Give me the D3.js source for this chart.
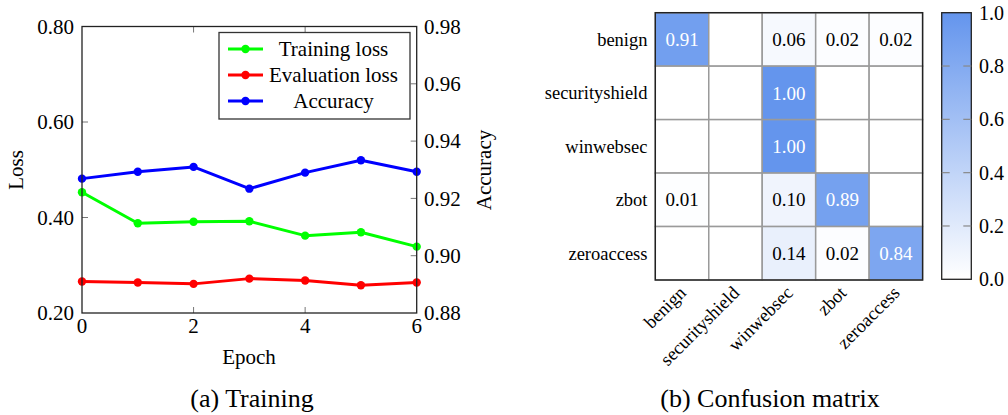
<!DOCTYPE html>
<html><head><meta charset="utf-8">
<script src="https://cdn.jsdelivr.net/npm/d3@7"></script>
</head><body style="margin:0">
<svg id="c" width="1008" height="415"></svg>
<script>
// ---- data ----
const epochs = [0, 1, 2, 3, 4, 5, 6];
const trainingLoss = [0.453, 0.388, 0.391, 0.392, 0.362, 0.369, 0.339];
const evaluationLoss = [0.266, 0.264, 0.261, 0.272, 0.268, 0.258, 0.264];
const accuracy = [0.9269, 0.9293, 0.9310, 0.9234, 0.9290, 0.9333, 0.9293];
const lossTicks = [0.2, 0.4, 0.6, 0.8];
const accTicks = [0.88, 0.90, 0.92, 0.94, 0.96, 0.98];
const epochTicks = [0, 2, 4, 6];
const seriesNames = ["Training loss", "Evaluation loss", "Accuracy"];
const seriesColors = ["#00ff00", "#ff0000", "#0000ff"];

const classes = ["benign", "securityshield", "winwebsec", "zbot", "zeroaccess"];
const matrixValues = [
  [0.91, null, 0.06, 0.02, 0.02],
  [null, null, 1.00, null, null],
  [null, null, 1.00, null, null],
  [0.01, null, 0.10, 0.89, null],
  [null, null, 0.14, 0.02, 0.84]
];
const colorbarTicks = [0.0, 0.2, 0.4, 0.6, 0.8, 1.0];

const FONT = "Liberation Serif";
const svg = d3.select("#c");
function T(sel, size) {
  return sel.append("text").attr("font-family", FONT)
    .style("font-family", "'Liberation Serif', serif", "important")
    .style("font-size", size + "px", "important");
}

// ---- left chart ----
const L = {x0: 82, x1: 416.7, y0: 26.5, y1: 313};
const x = d3.scaleLinear().domain([0, 6]).range([L.x0, L.x1]);
const yL = d3.scaleLinear().domain([0.2, 0.8]).range([L.y1, L.y0]);
const yR = d3.scaleLinear().domain([0.88, 0.98]).range([L.y1, L.y0]);
const g = svg.append("g");
const fs = 21;

const tickCol = "#777";
function tick(x1, y1, x2, y2) {
  g.append("line").attr("x1", x1).attr("y1", y1).attr("x2", x2).attr("y2", y2).attr("stroke", tickCol).attr("stroke-width", 1);
}
epochTicks.slice(1, -1).forEach(d => { tick(x(d), L.y1, x(d), L.y1 - 6); tick(x(d), L.y0, x(d), L.y0 + 6); });
lossTicks.slice(1, -1).forEach(d => tick(L.x0, yL(d), L.x0 + 6, yL(d)));
accTicks.slice(1, -1).forEach(d => tick(L.x1, yR(d), L.x1 - 6, yR(d)));

const series = [
  {vals: trainingLoss, y: yL},
  {vals: evaluationLoss, y: yL},
  {vals: accuracy, y: yR}
];
series.forEach((s, i) => {
  const line = d3.line().x((d, j) => x(epochs[j])).y(d => s.y(d));
  g.append("path").datum(s.vals).attr("d", line).attr("fill", "none")
    .attr("stroke", seriesColors[i]).attr("stroke-width", 3).attr("stroke-linejoin", "round");
  s.vals.forEach((d, j) => g.append("circle").attr("cx", x(epochs[j])).attr("cy", s.y(d)).attr("r", 4.2).attr("fill", seriesColors[i]));
});

g.append("rect").attr("x", L.x0).attr("y", L.y0).attr("width", L.x1 - L.x0).attr("height", L.y1 - L.y0)
  .attr("fill", "none").attr("stroke", "#222").attr("stroke-width", 1.3);

epochTicks.forEach(d => T(g, fs).attr("x", x(d)).attr("y", 333).attr("text-anchor", "middle").text(d));
lossTicks.forEach(d => T(g, fs).attr("x", 74).attr("y", yL(d)).attr("dy", "0.35em").attr("text-anchor", "end").text(d.toFixed(2)));
accTicks.forEach(d => T(g, fs).attr("x", 424).attr("y", yR(d)).attr("dy", "0.35em").text(d.toFixed(2)));
T(g, fs).attr("x", 249).attr("y", 364).attr("text-anchor", "middle").text("Epoch");
T(g, fs).attr("transform", "translate(23,170) rotate(-90)").attr("text-anchor", "middle").text("Loss");
T(g, fs).attr("transform", "translate(491,170) rotate(-90)").attr("text-anchor", "middle").text("Accuracy");

const lg = g.append("g");
lg.append("rect").attr("x", 219).attr("y", 32.5).attr("width", 191).attr("height", 86.5)
  .attr("fill", "#fff").attr("stroke", "#333").attr("stroke-width", 1.3);
seriesNames.forEach((n, i) => {
  const yy = 49 + i * 26;
  lg.append("line").attr("x1", 228).attr("x2", 263).attr("y1", yy).attr("y2", yy)
    .attr("stroke", seriesColors[i]).attr("stroke-width", 3);
  lg.append("circle").attr("cx", 245.5).attr("cy", yy).attr("r", 4.2).attr("fill", seriesColors[i]);
  T(lg, fs).attr("x", 333.5).attr("y", yy).attr("dy", "0.35em").attr("text-anchor", "middle").text(n);
});

T(g, 26).attr("x", 252).attr("y", 407).attr("text-anchor", "middle").text("(a) Training");

// ---- confusion matrix ----
const M = {x0: 655.3, y0: 12.7, size: 267.3};
const cx = d3.scaleBand().domain(d3.range(5)).range([M.x0, M.x0 + M.size]);
const cy = d3.scaleBand().domain(d3.range(5)).range([M.y0, M.y0 + M.size]);
const color = d3.scaleLinear().domain([0, 1]).range(["#ffffff", "#6495ed"]).interpolate(d3.interpolateRgb);
const m = svg.append("g");
matrixValues.forEach((row, r) => row.forEach((v, c) => {
  m.append("rect").attr("x", cx(c)).attr("y", cy(r)).attr("width", cx.bandwidth()).attr("height", cy.bandwidth())
    .attr("fill", color(v == null ? 0 : v)).attr("stroke", "#9a9a9a").attr("stroke-width", 1.5);
}));
matrixValues.forEach((row, r) => row.forEach((v, c) => {
  if (v == null) return;
  T(m, 19).attr("x", cx(c) + cx.bandwidth() / 2).attr("y", cy(r) + cy.bandwidth() / 2)
    .attr("dy", "0.35em").attr("text-anchor", "middle")
    .attr("fill", v > 0.5 ? "#fff" : "#000").text(v.toFixed(2));
}));
m.append("rect").attr("x", M.x0).attr("y", M.y0).attr("width", M.size).attr("height", M.size)
  .attr("fill", "none").attr("stroke", "#222").attr("stroke-width", 1.4);
classes.forEach((d, i) => {
  T(m, 18.5).attr("x", 647.5).attr("y", cy(i) + cy.bandwidth() / 2).attr("dy", "0.35em")
    .attr("text-anchor", "end").text(d);
  T(m, 18.5).attr("transform", `translate(${cx(i) + cx.bandwidth() / 2 + 5},${M.y0 + M.size + 14}) rotate(-45)`)
    .attr("text-anchor", "end").text(d);
});

const C = {x0: 941.7, x1: 971.3, y0: 12.7, y1: 279.3};
const yc = d3.scaleLinear().domain([0, 1]).range([C.y1, C.y0]);
const defs = svg.append("defs");
const grad = defs.append("linearGradient").attr("id", "cb").attr("x1", 0).attr("y1", 1).attr("x2", 0).attr("y2", 0);
grad.append("stop").attr("offset", "0%").attr("stop-color", color(0));
grad.append("stop").attr("offset", "100%").attr("stop-color", color(1));
m.append("rect").attr("x", C.x0).attr("y", C.y0).attr("width", C.x1 - C.x0).attr("height", C.y1 - C.y0)
  .attr("fill", "url(#cb)").attr("stroke", "#222").attr("stroke-width", 1.3);
colorbarTicks.slice(1, -1).forEach(d => {
  m.append("line").attr("x1", C.x0).attr("x2", C.x0 + 8).attr("y1", yc(d)).attr("y2", yc(d)).attr("stroke", "#888").attr("stroke-width", 1.2);
  m.append("line").attr("x1", C.x1 - 8).attr("x2", C.x1).attr("y1", yc(d)).attr("y2", yc(d)).attr("stroke", "#888").attr("stroke-width", 1.2);
});
colorbarTicks.forEach(d => T(m, 20).attr("x", 979).attr("y", yc(d)).attr("dy", "0.35em").text(d.toFixed(1)));

T(m, 26).attr("x", 770).attr("y", 407).attr("text-anchor", "middle").text("(b) Confusion matrix");
</script>
</body></html>
